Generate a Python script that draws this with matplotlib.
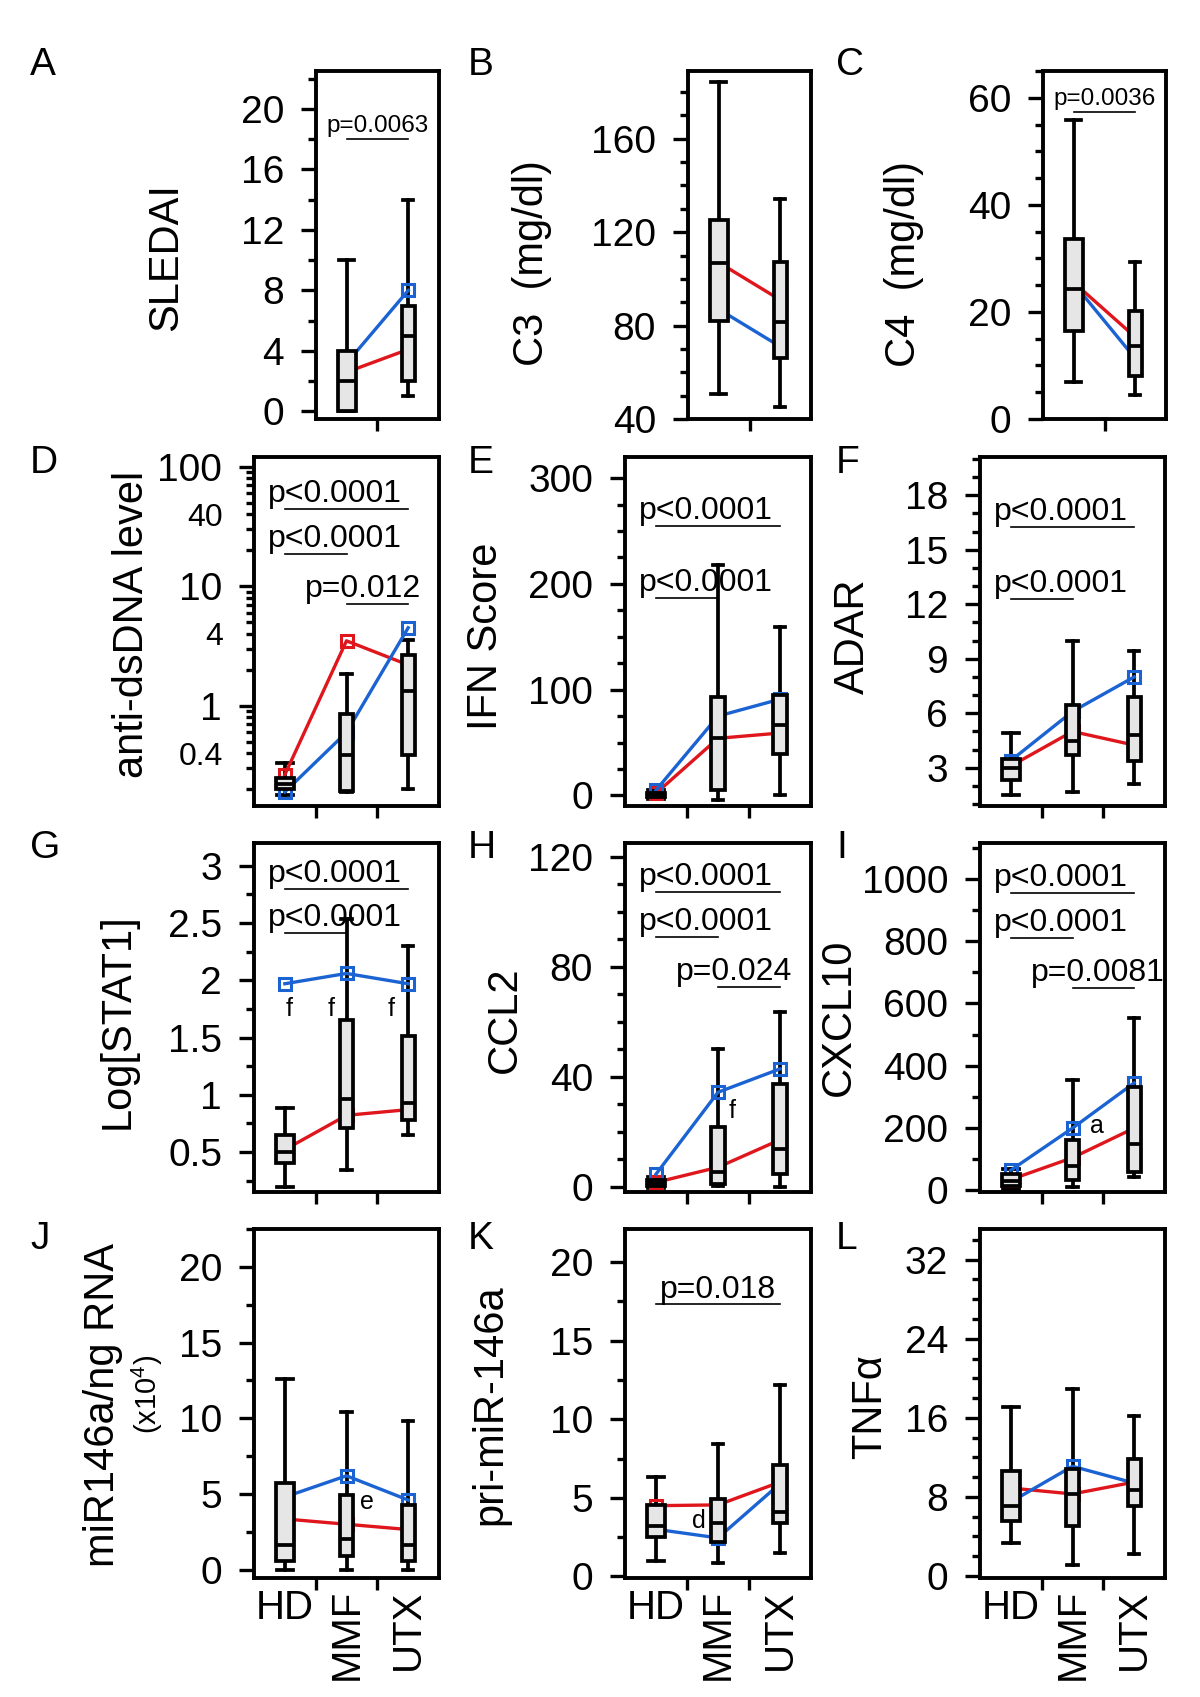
import numpy as np
import matplotlib
matplotlib.use("Agg")
import matplotlib.pyplot as plt
from matplotlib.ticker import MultipleLocator, FixedLocator, FuncFormatter

plt.rcParams['font.family'] = ['Liberation Sans', 'DejaVu Sans']
plt.rcParams['mathtext.default'] = 'regular'

groups = ['HD', 'MMF', 'UTX']

# boxes: (whisker low, q1, median, q3, whisker high), one per group
sledai_box = [(0, 0, 2, 4, 10), (1, 2, 5, 7, 14)]
sledai_red = [2.6, 4.1]
sledai_blue = [3.2, 8.0]

c3_box = [(50.5, 82, 107, 125, 184.5), (45, 66.3, 81.7, 107.3, 134)]
c3_red = [107, 91]
c3_blue = [87, 71]

c4_box = [(7, 16.4, 24.3, 33.7, 55.9), (4.5, 8.0, 13.7, 20.1, 29.3)]
c4_red = [25.5, 15.3]
c4_blue = [25.3, 11.3]

dsdna_box = [(0.18, 0.2, 0.22, 0.25, 0.33), (0.19, 0.195, 0.39, 0.85, 1.86),
             (0.2, 0.39, 1.33, 2.65, 3.54)]
dsdna_red = [0.265, 3.5, 2.2]
dsdna_blue = [0.19, 0.6, 4.5]

ifn_box = [(-3, -1.5, 0.5, 2.5, 5), (-4.5, 5.5, 54.6, 93.2, 218),
           (0, 38.8, 66.3, 95.4, 159.5)]
ifn_red = [2, 54, 59]
ifn_blue = [5, 75, 91]

adar_box = [(1.48, 2.34, 3.0, 3.5, 4.91), (1.66, 3.68, 4.47, 6.43, 9.97),
            (2.12, 3.4, 4.83, 6.89, 9.42)]
adar_red = [3.1, 5.0, 4.25]
adar_blue = [3.4, 6.1, 8.0]

stat1_box = [(0.19, 0.40, 0.5, 0.65, 0.88), (0.34, 0.71, 0.96, 1.65, 2.54),
             (0.65, 0.78, 0.93, 1.51, 2.30)]
stat1_red = [0.52, 0.82, 0.87]
stat1_blue = [1.97, 2.06, 1.97]

ccl2_box = [(-0.5, 0.3, 1.2, 2.2, 3.5), (0.1, 1.0, 5.2, 21.8, 50),
            (0, 4.6, 13.7, 37.3, 63.6)]
ccl2_red = [1.5, 7, 17]
ccl2_blue = [4.5, 34.3, 42.8]

cxcl10_box = [(5, 13, 30, 53, 69), (10.7, 34, 80, 162, 354),
              (42.6, 58.6, 149, 333, 552)]
cxcl10_red = [35, 105, 200]
cxcl10_blue = [65, 200, 345]

mir_box = [(0, 0.55, 1.65, 5.7, 12.6), (0, 0.9, 2.0, 4.95, 10.4),
           (0, 0.6, 1.65, 4.3, 9.85)]
mir_red = [3.35, 3.0, 2.65]
mir_blue = [4.8, 6.2, 4.6]

primir_box = [(1.0, 2.5, 3.2, 4.55, 6.3), (0.85, 2.2, 3.4, 4.9, 8.4),
              (1.5, 3.4, 4.07, 7.1, 12.2)]
primir_red = [4.5, 4.55, 6.0]
primir_blue = [3.0, 2.45, 5.9]

tnf_box = [(3.37, 5.56, 7.07, 10.6, 17.1), (1.08, 5.1, 8.25, 10.8, 18.9),
           (2.2, 7.07, 8.75, 11.8, 16.2)]
tnf_red = [8.9, 8.3, 9.5]
tnf_blue = [7.5, 11.1, 9.4]

# significance bars: (from group, to group, bar height, label)
sledai_p = [(1, 2, 18.0, 'p=0.0063')]
c4_p = [(1, 2, 57.4, 'p=0.0036')]
dsdna_p = [(0, 2, 44.7, 'p<0.0001'), (0, 1, 18.7, 'p<0.0001'), (1, 2, 7.1, 'p=0.012')]
ifn_p = [(0, 2, 254.7, 'p<0.0001'), (0, 1, 186.5, 'p<0.0001')]
adar_p = [(0, 2, 16.25, 'p<0.0001'), (0, 1, 12.3, 'p<0.0001')]
stat1_p = [(0, 2, 2.80, 'p<0.0001'), (0, 1, 2.41, 'p<0.0001')]
ccl2_p = [(0, 2, 107.3, 'p<0.0001'), (0, 1, 90.7, 'p<0.0001'), (1, 2, 72.5, 'p=0.024')]
cxcl10_p = [(0, 2, 956, 'p<0.0001'), (0, 1, 810, 'p<0.0001'), (1, 2, 650, 'p=0.0081')]
primir_p = [(0, 2, 17.3, 'p=0.018')]

# letters marking group differences: (x, y, letter)
stat1_notes = [(0.07, 1.745, 'f'), (0.75, 1.745, 'f'), (1.73, 1.745, 'f')]
ccl2_notes = [(1.23, 27.6, 'f')]
cxcl10_notes = [(1.4, 208, 'a')]
mir_notes = [(1.33, 4.44, 'e')]
primir_notes = [(0.69, 3.5, 'd')]

W, H = 1200, 1697
RED = '#e0161d'
BLUE = '#1b63d2'
FILL = '#e6e6e6'
LW = 2.7

fig = plt.figure(figsize=(W / 100, H / 100), dpi=100)

# pixel frames of the panels
cols3 = [(254, 439), (625, 811), (980, 1165)]
cols2 = [(316, 439), (688, 811), (1043, 1166)]
rows = [(71, 419), (457, 806), (843, 1192), (1229, 1578)]
letter_x = [30, 468, 836]
letter_y = [47, 445, 830, 1221]

panels = [
    dict(letter='A', ylabel='SLEDAI', box=sledai_box, red=sledai_red, blue=sledai_blue,
         p=sledai_p, notes=[], ylim=(-0.5, 22.5), major=4, minor=2, lab=(166, 257)),
    dict(letter='B', ylabel='C3  (mg/dl)', box=c3_box, red=c3_red, blue=c3_blue,
         p=[], notes=[], ylim=(40, 189), major=40, minor=10, lab=(532, 263)),
    dict(letter='C', ylabel='C4  (mg/dl)', box=c4_box, red=c4_red, blue=c4_blue,
         p=c4_p, notes=[], ylim=(0, 65), major=20, minor=5, lab=(904, 264)),
    dict(letter='D', ylabel='anti-dsDNA level', box=dsdna_box, red=dsdna_red, blue=dsdna_blue,
         p=dsdna_p, notes=[], ylim=(0.145, 121), major=None, minor=None, lab=(132, 624)),
    dict(letter='E', ylabel='IFN Score', box=ifn_box, red=ifn_red, blue=ifn_blue,
         p=ifn_p, notes=[], ylim=(-10, 320), major=100, minor=25, lab=(486, 636)),
    dict(letter='F', ylabel='ADAR', box=adar_box, red=adar_red, blue=adar_blue,
         p=adar_p, notes=[], ylim=(0.9, 20.1), major=3, minor=1, lab=(853, 636)),
    dict(letter='G', ylabel='Log[STAT1]', box=stat1_box, red=stat1_red, blue=stat1_blue,
         p=stat1_p, notes=stat1_notes, ylim=(0.15, 3.2), major=0.5, minor=0.25, lab=(118, 1021)),
    dict(letter='H', ylabel='CCL2', box=ccl2_box, red=ccl2_red, blue=ccl2_blue,
         p=ccl2_p, notes=ccl2_notes, ylim=(-2, 125), major=40, minor=10, lab=(505, 1020)),
    dict(letter='I', ylabel='CXCL10', box=cxcl10_box, red=cxcl10_red, blue=cxcl10_blue,
         p=cxcl10_p, notes=cxcl10_notes, ylim=(-5, 1115), major=200, minor=100, lab=(839, 1017)),
    dict(letter='J', ylabel='miR146a/ng RNA', box=mir_box, red=mir_red, blue=mir_blue,
         p=[], notes=mir_notes, ylim=(-0.55, 22.5), major=5, minor=2.5, lab=(103, 1405)),
    dict(letter='K', ylabel='pri-miR-146a', box=primir_box, red=primir_red, blue=primir_blue,
         p=primir_p, notes=primir_notes, ylim=(-0.1, 22.1), major=5, minor=2.5, lab=(490, 1405)),
    dict(letter='L', ylabel='TNF\u03b1', box=tnf_box, red=tnf_red, blue=tnf_blue,
         p=[], notes=[], ylim=(-0.2, 35.1), major=8, minor=2, lab=(870, 1407)),
]


def px_axes(x0, x1, y0, y1):
    return fig.add_axes([x0 / W, 1 - y1 / H, (x1 - x0) / W, (y1 - y0) / H])


for i, sp in enumerate(panels):
    r, c = divmod(i, 3)
    n = len(sp['box'])
    pos = list(range(3 - n, 3))
    x0, x1 = (cols3 if n == 3 else cols2)[c]
    ax = px_axes(x0, x1, *rows[r])
    if sp['major'] is None:
        ax.set_yscale('log')

    stats = [dict(whislo=b[0], q1=b[1], med=b[2], q3=b[3], whishi=b[4], fliers=[])
             for b in sp['box']]
    ax.bxp(stats, positions=pos, widths=[0.29] + [0.21] * (n - 1),
           capwidths=[0.25] + [0.17] * (n - 1), patch_artist=True,
           showfliers=False, manage_ticks=False,
           boxprops=dict(facecolor=FILL, edgecolor='black', linewidth=LW, zorder=3),
           medianprops=dict(color='black', linewidth=LW, zorder=4),
           whiskerprops=dict(color='black', linewidth=LW, zorder=1),
           capprops=dict(color='black', linewidth=LW, zorder=1))
    for vals, col in ((sp['red'], RED), (sp['blue'], BLUE)):
        ax.plot(pos, vals, color=col, lw=2.4, marker='s', ms=9, mfc='none',
                mew=2.2, zorder=2)

    # significance bars
    pfs = 17.5 if sp['letter'] in 'AC' else 23
    for a, b, y, txt in sp['p']:
        ax.plot([a, b], [y, y], color='black', lw=1.2, zorder=5)
        if sp['letter'] in 'ACK':
            tx, ha = (a + b) / 2, 'center'
        elif txt.startswith('p<'):
            tx, ha = a - 0.27, 'left'
        else:
            tx, ha = a - 0.68, 'left'
        ax.annotate(txt, (tx, y), xytext=(0, 5), textcoords='offset points',
                    ha=ha, va='baseline', fontsize=pfs, zorder=6)
    for x, y, t in sp['notes']:
        ax.text(x, y, t, ha='center', va='center', fontsize=18, zorder=6)

    # axes styling
    ax.set_xlim(min(pos) - 0.5, 2.5)
    ax.set_ylim(*sp['ylim'])
    for s in ax.spines.values():
        s.set_linewidth(2.8)
    if sp['major'] is None:
        ax.yaxis.set_major_locator(FixedLocator([1, 10, 100]))
        ax.yaxis.set_minor_locator(FixedLocator(
            [m * 10.0 ** e for e in (-1, 0, 1) for m in range(2, 10)]))
        ax.yaxis.set_major_formatter(FuncFormatter(lambda v, _: f'{v:g}'))
        ax.yaxis.set_minor_formatter(FuncFormatter(
            lambda v, _: f'{v:g}' if round(v / 10 ** np.floor(np.log10(v))) == 4 else ''))
        ax.tick_params(axis='y', which='minor', labelsize=23, pad=17)
    else:
        ax.yaxis.set_major_locator(MultipleLocator(sp['major']))
        ax.yaxis.set_minor_locator(MultipleLocator(sp['minor']))
        ax.yaxis.set_major_formatter(FuncFormatter(lambda v, _: f'{v:g}'))
    ax.tick_params(axis='y', which='major', length=11, width=2.4, labelsize=28, pad=12)
    ax.tick_params(axis='y', which='minor', length=5.5, width=2.4)

    ax.set_xticks(pos)
    ax.set_xticks([p + 0.5 for p in pos[:-1]], minor=True)
    ax.tick_params(axis='x', which='minor', length=8.5, width=2.4)
    if r == 3:
        ax.set_xticklabels(groups, fontsize=29)
        for lbl in ax.get_xticklabels()[1:]:
            lbl.set_rotation(90)
        ax.tick_params(axis='x', which='major', length=0, pad=8)
    else:
        ax.set_xticklabels([])
        ax.tick_params(axis='x', which='major', length=0)

    fig.text(sp['lab'][0] / W, 1 - sp['lab'][1] / H, sp['ylabel'], rotation=90,
             ha='center', va='center', fontsize=30)
    fig.text(letter_x[c] / W, 1 - letter_y[r] / H, sp['letter'], ha='left',
             va='top', fontsize=28)

fig.text(147 / W, 1 - 1394 / H, '(x10$^{4}$)', rotation=90, ha='center',
         va='center', fontsize=21)

fig.savefig('out.png', dpi=100)
